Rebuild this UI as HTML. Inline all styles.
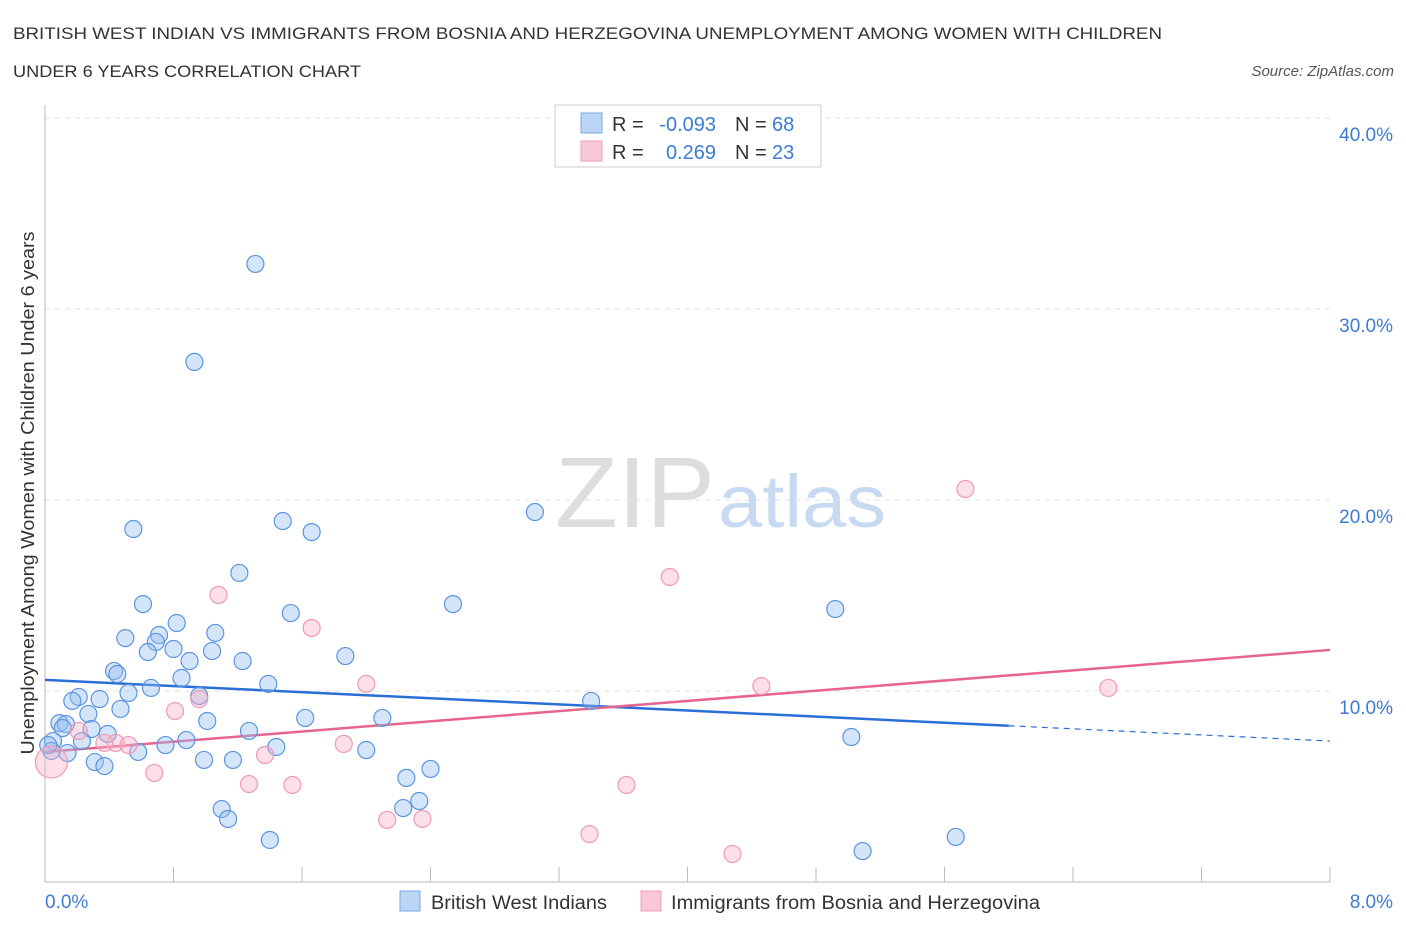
<!DOCTYPE html>
<html><head><meta charset="utf-8"><style>
body{margin:0;background:#fff;font-family:"Liberation Sans",sans-serif;}
svg text{font-family:"Liberation Sans",sans-serif;}
</style></head><body>
<svg id="chart" width="1406" height="930">
<text x="13" y="39" font-size="17" fill="#333" textLength="1149" lengthAdjust="spacingAndGlyphs">BRITISH WEST INDIAN VS IMMIGRANTS FROM BOSNIA AND HERZEGOVINA UNEMPLOYMENT AMONG WOMEN WITH CHILDREN</text>
<text x="13" y="77" font-size="17" fill="#333" textLength="348" lengthAdjust="spacingAndGlyphs">UNDER 6 YEARS CORRELATION CHART</text>
<text x="1394" y="76" font-size="15" fill="#555" font-style="italic" text-anchor="end">Source: ZipAtlas.com</text>
<text x="555" y="527" font-size="100" fill="#ddd" font-family="Liberation Serif" textLength="160" lengthAdjust="spacingAndGlyphs">ZIP</text>
<text x="718" y="527" font-size="74" fill="#c8daf2" textLength="168" lengthAdjust="spacingAndGlyphs">atlas</text>
<g id="grid"></g><g id="axes"></g><g id="trends"></g><g id="pts"></g>
<text transform="translate(34,493) rotate(-90)" font-size="18" fill="#333" text-anchor="middle" textLength="523" lengthAdjust="spacingAndGlyphs">Unemployment Among Women with Children Under 6 years</text>
<text x="45" y="908" font-size="19" fill="#3d7bd4">0.0%</text>
<text x="1393" y="908" font-size="19" fill="#3d7bd4" text-anchor="end">8.0%</text>
<g>
<rect x="555" y="105" width="266" height="62" fill="#fff" stroke="#ccc"/>
<rect x="581" y="113" width="21" height="20" fill="#bcd5f5" stroke="#7aaae8"/>
<rect x="581" y="141" width="21" height="20" fill="#f9c8d6" stroke="#f0a0b8"/>
<text x="612" y="131" font-size="20" fill="#333">R =</text>
<text x="716" y="131" font-size="20" fill="#3d7bd4" text-anchor="end">-0.093</text>
<text x="735" y="131" font-size="20" fill="#333">N =</text>
<text x="772" y="131" font-size="20" fill="#3d7bd4">68</text>
<text x="612" y="159" font-size="20" fill="#333">R =</text>
<text x="716" y="159" font-size="20" fill="#3d7bd4" text-anchor="end">0.269</text>
<text x="735" y="159" font-size="20" fill="#333">N =</text>
<text x="772" y="159" font-size="20" fill="#3d7bd4">23</text>
</g>
<g>
<rect x="400" y="891" width="20" height="20" fill="#bcd5f5" stroke="#7aaae8"/>
<text x="431" y="909" font-size="19" fill="#333" textLength="176" lengthAdjust="spacingAndGlyphs">British West Indians</text>
<rect x="641" y="891" width="20" height="20" fill="#f9c8d6" stroke="#f0a0b8"/>
<text x="671" y="909" font-size="19" fill="#333" textLength="369" lengthAdjust="spacingAndGlyphs">Immigrants from Bosnia and Herzegovina</text>
</g>
</svg>
<script>
const yTicks=[10,20,30,40];
const yTickLabels=["10.0%","20.0%","30.0%","40.0%"];
const xTicks=[0,0.8,1.6,2.4,3.2,4,4.8,5.6,6.4,7.2,8];
const blueX=[1.31,0.93,0.55,1.48,1.66,3.05,1.21,0.61,2.54,1.53,0.82,0.50,1.06,0.71,0.69,0.64,0.80,1.04,1.87,0.90,1.23,0.43,0.45,0.85,0.66,1.39,0.52,4.92,0.21,0.17,0.34,0.96,0.27,0.47,3.40,1.01,1.62,2.10,0.09,0.13,0.29,0.11,0.39,1.27,0.88,0.23,0.05,5.02,0.75,1.44,0.58,0.14,0.04,2.00,0.31,0.37,0.99,1.17,2.40,2.25,2.33,1.10,1.14,2.23,1.40,5.09,5.67,0.02];
const blueY=[32.36,27.23,18.48,18.90,18.32,19.37,16.18,14.55,14.55,14.08,13.56,12.77,13.04,12.93,12.57,12.04,12.20,12.09,11.83,11.57,11.57,11.05,10.89,10.68,10.16,10.37,9.90,14.29,9.69,9.48,9.58,9.74,8.80,9.06,9.48,8.43,8.59,8.59,8.32,8.27,8.01,8.06,7.75,7.91,7.43,7.38,7.38,7.59,7.17,7.07,6.81,6.75,6.86,6.91,6.28,6.07,6.39,6.39,5.92,5.45,4.24,3.82,3.30,3.87,2.20,1.62,2.36,7.17];
const pinkX=[5.73,3.89,1.08,1.66,2.00,4.46,6.62,0.96,0.81,0.21,0.44,0.37,0.52,1.86,1.37,0.68,1.27,1.54,3.62,2.13,2.35,3.39,4.28,0.04];
const pinkY=[20.58,15.97,15.03,13.30,10.37,10.26,10.16,9.58,8.95,7.91,7.28,7.28,7.17,7.23,6.65,5.71,5.13,5.08,5.08,3.25,3.30,2.51,1.47,6.28];
const blueTrend=[10.58,7.38];
const blueSolidEnd=6.0;
const pinkTrend=[6.81,12.15];
const NS="http://www.w3.org/2000/svg";
const X=v=>45+v/8*1285, Y=v=>882-v*19.1;
function mk(p,t,a){const e=document.createElementNS(NS,t);for(const k in a)e.setAttribute(k,a[k]);document.getElementById(p).appendChild(e);return e;}
yTicks.forEach((t,i)=>{
 let l=mk('grid','line',{x1:45,x2:1330,y1:Y(t),y2:Y(t),stroke:'#e2e2e2','stroke-dasharray':'5,5'});
 
 
 let tx=mk('grid','text',{x:1393,y:Y(t)+23,'font-size':19,fill:'#3d7bd4','text-anchor':'end'});tx.textContent=yTickLabels[i];
 
 
});
let ax=mk('axes','line',{x1:45,x2:45,y1:105,y2:882,stroke:'#bbb'});


let bx=mk('axes','line',{x1:45,x2:1330,y1:882,y2:882,stroke:'#bbb'});


xTicks.forEach(t=>{let l=mk('axes','line',{x1:X(t),x2:X(t),y1:867,y2:882,stroke:'#bbb'});
 
 });
const by=x=>blueTrend[0]+(blueTrend[1]-blueTrend[0])*x/8;
let t1=mk('trends','line',{x1:X(0),y1:Y(by(0)),x2:X(blueSolidEnd),y2:Y(by(blueSolidEnd)),stroke:'#2a6fd6','stroke-width':2.5});


let t2=mk('trends','line',{x1:X(blueSolidEnd),y1:Y(by(blueSolidEnd)),x2:X(8),y2:Y(by(8)),stroke:'#2a6fd6','stroke-width':1.2,'stroke-dasharray':'6,5'});


let t3=mk('trends','line',{x1:X(0),y1:Y(pinkTrend[0]),x2:X(8),y2:Y(pinkTrend[1]),stroke:'#e6648e','stroke-width':2.5});


blueX.forEach((x,i)=>{let c=mk('pts','circle',{cx:X(x),cy:Y(blueY[i]),r:8.5,fill:'rgba(150,190,240,0.4)',stroke:'#5b95e0','stroke-width':1.2});
 
 });
pinkX.forEach((x,i)=>{let c=mk('pts','circle',{cx:X(x),cy:Y(pinkY[i]),r:i==pinkX.length-1?16:8.5,fill:'rgba(248,175,198,0.4)',stroke:'#f09ab5','stroke-width':1.2});
 
 });
</script>
</body></html>
